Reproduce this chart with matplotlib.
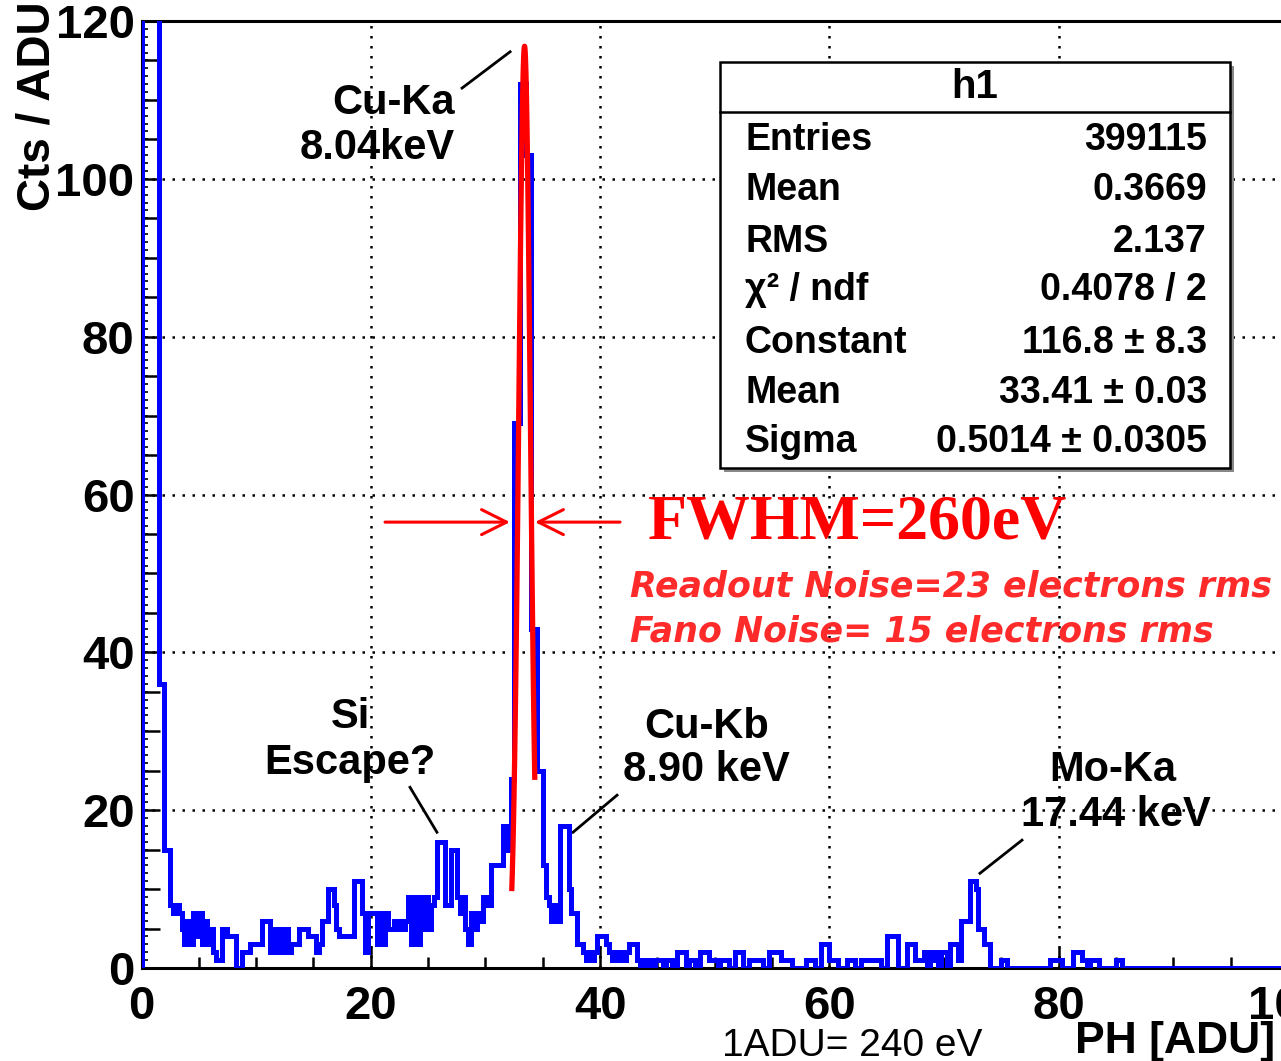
import numpy as np
import matplotlib.pyplot as plt
from matplotlib.ticker import MultipleLocator
from matplotlib.patches import Rectangle
from matplotlib.lines import Line2D

plt.rcParams['font.family'] = ['Liberation Sans', 'DejaVu Sans']
plt.rcParams['font.weight'] = 'bold'

# --- histogram h1: bins of 0.25 ADU starting at 0, one row = 1 ADU ---
bin_width = 0.25
counts = [
    9000, 15000, 12000, 5200,   # 0  (pedestal, off scale)
    1100, 400, 36, 36,          # 1
    15, 15, 8, 7,               # 2
    8, 7, 5, 3,                 # 3
    6, 3, 7, 4,                 # 4
    7, 3, 6, 3,                 # 5
    5, 2, 1, 1,                 # 6
    5, 5, 4, 4,                 # 7
    4, 0, 0, 2,                 # 8
    2, 2, 3, 3,                 # 9
    3, 3, 6, 6,                 # 10
    6, 2, 5, 2,                 # 11
    5, 2, 5, 2,                 # 12
    3, 3, 3, 5,                 # 13
    5, 5, 4, 4,                 # 14
    4, 2, 3, 6,                 # 15
    6, 10, 10, 8,               # 16
    5, 4, 4, 4,                 # 17
    4, 4, 11, 11,               # 18
    11, 7, 2, 7,                # 19
    7, 7, 3, 7,                 # 20
    3, 7, 5, 5,                 # 21
    6, 5, 6, 5,                 # 22
    6, 9, 3, 9,                 # 23
    3, 9, 5, 9,                 # 24
    5, 8, 9, 16,                # 25
    16, 16, 8, 8,               # 26
    15, 15, 9, 7,               # 27
    9, 5, 3, 7,                 # 28
    5, 7, 6, 9,                 # 29
    9, 8, 13, 13,               # 30
    13, 13, 18, 15,             # 31
    18, 24, 69, 69,             # 32
    112, 112, 103, 103,         # 33
    43, 43, 25, 25,             # 34
    13, 9, 8, 6,                # 35
    8, 6, 18, 18,               # 36
    18, 10, 7, 7,               # 37
    3, 3, 2, 1,                 # 38
    2, 1, 2, 4,                 # 39
    4, 4, 3, 2,                 # 40
    1, 2, 1, 2,                 # 41
    1, 2, 3, 3,                 # 42
    3, 1, 0, 1,                 # 43
    0, 1, 0, 1,                 # 44
    1, 1, 0, 1,                 # 45
    1, 0, 0, 2,                 # 46
    2, 2, 0, 1,                 # 47
    1, 0, 0, 2,                 # 48
    2, 2, 1, 1,                 # 49
    1, 0, 1, 1,                 # 50
    1, 0, 0, 2,                 # 51
    2, 2, 0, 0,                 # 52
    1, 1, 1, 1,                 # 53
    1, 0, 0, 2,                 # 54
    2, 2, 2, 1,                 # 55
    1, 1, 1, 0,                 # 56
    0, 0, 0, 0,                 # 57
    1, 1, 1, 0,                 # 58
    0, 3, 3, 3,                 # 59
    1, 1, 1, 0,                 # 60
    0, 0, 1, 1,                 # 61
    1, 0, 0, 1,                 # 62
    1, 1, 1, 1,                 # 63
    1, 1, 0, 0,                 # 64
    4, 4, 4, 4,                 # 65
    0, 0, 0, 3,                 # 66
    3, 3, 1, 1,                 # 67
    1, 2, 0, 2,                 # 68
    1, 2, 0, 2,                 # 69
    2, 0, 3, 3,                 # 70
    3, 1, 6, 6,                 # 71
    6, 11, 11, 10,              # 72
    5, 5, 3, 3,                 # 73
    0, 0, 0, 0,                 # 74
    1, 1, 0, 0,                 # 75
    0, 0, 0, 0,                 # 76
    0, 0, 0, 0,                 # 77
    0, 0, 0, 0,                 # 78
    0, 1, 1, 1,                 # 79
    1, 0, 0, 0,                 # 80
    0, 2, 2, 2,                 # 81
    1, 1, 0, 1,                 # 82
    1, 1, 0, 0,                 # 83
    0, 0, 0, 0,                 # 84
    1, 1, 0, 0,                 # 85
]
counts = counts + [0] * (400 - len(counts))  # empty up to 100 ADU

# gaussian fit (from the stats box)
fit_const = 116.8
fit_mean = 33.41
fit_sigma = 0.5014
fit_lo, fit_hi = 32.3, 34.3

stat_names = ['Entries', 'Mean', 'RMS', 'χ² / ndf', 'Constant', 'Mean', 'Sigma']
stat_values = ['399115', '0.3669', '2.137', '0.4078 / 2', '116.8 ± 8.3',
               '33.41 ± 0.03', '0.5014 ± 0.0305']

W, H = 1281, 1061
fig = plt.figure(figsize=(W / 100, H / 100), dpi=100)
ax = fig.add_axes([141.5 / W, 1 - 968 / H, (1288 - 141.5) / W, (968 - 21) / H])

edges = np.arange(len(counts) + 1) * bin_width
ax.axhline(0, color='#d00000', lw=2, zorder=1)
ax.stairs(counts, edges, color='#0000ff', lw=3.6, zorder=3)

xf = np.linspace(fit_lo, fit_hi, 100)
yf = fit_const * np.exp(-0.5 * ((xf - fit_mean) / fit_sigma) ** 2)
ax.plot(xf, yf, color='#ff0000', lw=3.8, zorder=4)

ax.set_xlim(0, 100)
ax.set_ylim(0, 120)

# axes / ticks in ROOT style
ax.xaxis.set_major_locator(MultipleLocator(20))
ax.xaxis.set_minor_locator(MultipleLocator(5))
ax.yaxis.set_major_locator(MultipleLocator(20))
ax.yaxis.set_minor_locator(MultipleLocator(5))
ax.tick_params(axis='both', which='both', direction='in', width=1.8, colors='black',
               top=False, right=False)
ax.tick_params(axis='x', which='major', length=15, labelsize=34, pad=12)
ax.tick_params(axis='x', which='minor', length=8)
ax.tick_params(axis='y', which='major', length=13, labelsize=34, pad=5)
ax.tick_params(axis='y', which='minor', length=13)
for s in ax.spines.values():
    s.set_linewidth(2.2)
ax.grid(True, which='major', color='black', lw=1.8, linestyle=(0, (1, 3)))

sec = ax.secondary_yaxis('left')
sec.yaxis.set_major_locator(MultipleLocator(1))
sec.tick_params(direction='in', length=4, width=1.2, labelleft=False)
sec.spines['left'].set_visible(False)

# axis titles
fig.text(38 / W, 1 - 1 / H, 'Cts / ADU', rotation=90, ha='center', va='top', fontsize=33)
fig.text(1075 / W, 1 - 1042 / H, 'PH [ADU]', ha='left', va='center', fontsize=32)
fig.text(722 / W, 1 - 1056 / H, '1ADU= 240 eV', ha='left', va='baseline', fontsize=28,
         fontweight='normal')

# peak labels
lab = dict(fontsize=30, color='black', va='center')
ax.text(27.35, 109.6, 'Cu-Ka', ha='right', **lab)
ax.text(27.35, 103.9, '8.04keV', ha='right', **lab)
ax.plot([27.96, 32.15], [111.5, 116.1], color='black', lw=2)
ax.text(18.2, 31.8, 'Si', ha='center', **lab)
ax.text(18.2, 26.0, 'Escape?', ha='center', **lab)
ax.plot([23.42, 25.77], [22.9, 17.2], color='black', lw=2)
ax.text(49.3, 30.5, 'Cu-Kb', ha='center', **lab)
ax.text(49.3, 25.1, '8.90 keV', ha='center', **lab)
ax.plot([37.64, 41.48], [17.2, 21.9], color='black', lw=2)
ax.text(84.7, 25.1, 'Mo-Ka', ha='center', **lab)
ax.text(85.0, 19.4, '17.44 keV', ha='center', **lab)
ax.plot([73.13, 76.8], [12.0, 16.2], color='black', lw=2)

# FWHM arrows and text
arr = dict(arrowstyle='->,head_length=0.9,head_width=0.45', color='#ff0000', lw=2.2,
           mutation_scale=20, shrinkA=0, shrinkB=0)
ax.annotate('', xy=(32.14, 56.5), xytext=(21.24, 56.5), arrowprops=arr)
ax.annotate('', xy=(34.32, 56.5), xytext=(41.74, 56.5), arrowprops=arr)
ax.text(44.2, 56.3, 'FWHM=260eV', color='#ff0000', fontsize=46, va='center',
        family='Liberation Serif', fontweight='bold')
ax.text(42.6, 48.3, 'Readout Noise=23 electrons rms', color='#ff2a2a', fontsize=25,
        va='center', family='DejaVu Sans', fontweight='bold', style='oblique')
ax.text(42.6, 42.6, 'Fano Noise= 15 electrons rms', color='#ff2a2a', fontsize=25,
        va='center', family='DejaVu Sans', fontweight='bold', style='oblique')

# stats box
bx0, bx1, by0, by1 = 720, 1230, 62, 468
fig.add_artist(Rectangle(((bx0 + 4) / W, 1 - (by1 + 4) / H), (bx1 - bx0) / W, (by1 - by0) / H,
                         transform=fig.transFigure, facecolor='#888888', edgecolor='none', zorder=5))
fig.add_artist(Rectangle((bx0 / W, 1 - by1 / H), (bx1 - bx0) / W, (by1 - by0) / H,
                         transform=fig.transFigure, facecolor='white', edgecolor='black',
                         lw=1.8, zorder=6))
fig.add_artist(Line2D([bx0 / W, bx1 / W], [1 - 112 / H, 1 - 112 / H], transform=fig.transFigure,
                      color='black', lw=1.8, zorder=7))
fig.text(975 / W, 1 - 87 / H, 'h1', ha='center', va='center', fontsize=29, zorder=8)
row_y = [140, 190, 242, 290, 343, 393, 442]
for name, val, yy in zip(stat_names, stat_values, row_y):
    fig.text(745 / W, 1 - yy / H, name, ha='left', va='center', fontsize=27, zorder=8)
    fig.text(1207 / W, 1 - yy / H, val, ha='right', va='center', fontsize=27, zorder=8)

fig.savefig('out.png', dpi=100)
